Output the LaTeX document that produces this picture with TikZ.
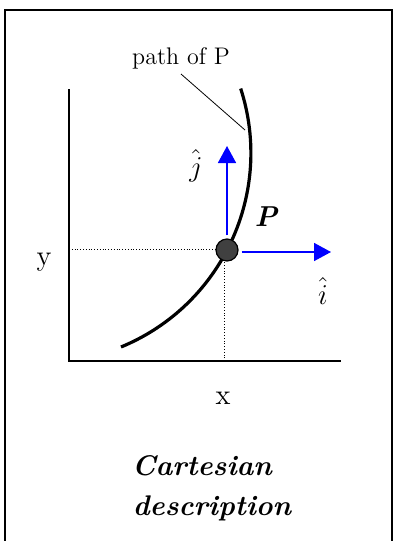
\documentclass[tikz,border=0pt]{standalone}
\usepackage{tikz}
\usetikzlibrary{arrows.meta, positioning}

\begin{document}
\begin{tikzpicture}[
    x=0.5pt, y=-0.5pt,
    every node/.style={font=\fontsize{14.4}{17}\selectfont, inner sep=0pt},
    axis/.style={line width=0.6pt, black},
    guide/.style={densely dotted, line width=0.4pt},
    unitvec/.style={-{Triangle[length=8.5pt, width=9pt]}, line width=0.8pt, blue, shorten <=1.5pt},
    particle/.style={circle, draw=black, line width=0.6pt, fill=black!75, minimum size=11pt},
    title/.style={font=\fontsize{14.2}{17}\selectfont\bfseries\itshape},
]
\useasboundingbox (0,0) rectangle (393,541);
% Frame
\draw[line width=0.8pt] (5,560) -- (5,10) -- (392,10) -- (392,560);

% Axes
\coordinate (origin) at (69,361);
\coordinate (ytop) at (69,89);
\coordinate (xend) at (341,361);
\draw[axis] (ytop) -- (origin) -- (xend);
\node (ylbl) at (44,262) {y};
\node (xlbl) at (223,398) {x};

% Path of the particle
\draw[line width=1.6pt] (121,347) arc[start angle=-67.6, end angle=17.9, radius=104.9pt];
\coordinate (leadend) at (245,130);
\node[font=\fontsize{12}{14}\selectfont] (pathlbl) at (181,58) {path of P};
\draw[line width=0.4pt] ([yshift=-8pt]pathlbl.center) -- (leadend);

% Projections onto the axes
\coordinate (ylev) at (69,249);
\coordinate (xlev) at (224,361);
\coordinate (xtop) at (224,255);
\draw[guide] (ylev) -- (227,249);
\draw[guide] (xlev) -- (xtop);

% Particle and unit vectors
\node[particle] (ptP) at (227,250) {};
\coordinate (jtip) at (227,146);
\coordinate (itip) at (331,252);
\draw[unitvec] (ptP.north) -- (jtip);
\draw[unitvec] (ptP.east |- itip) -- (itip);
\node (jlbl) at (196,166) {$\hat{j}$};
\node (ilbl) at (323,291) {$\hat{i}$};
\node[font=\fontsize{14.4}{17}\selectfont\bfseries\itshape] (plbl) at (266,217) {P};

% Caption
\node[title] (cap1) at (202,466) {Cartesian};
\node[title] (cap2) at (212,508) {description};
\end{tikzpicture}
\end{document}
